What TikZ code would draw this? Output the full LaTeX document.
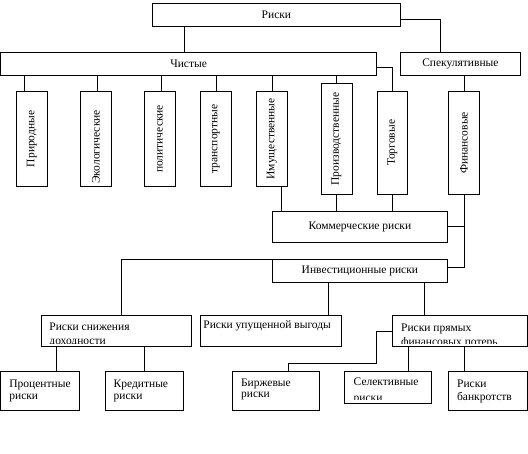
\documentclass[tikz,border=0pt]{standalone}
\usepackage{fontspec}
\setmainfont{Liberation Serif}
\begin{document}
\begin{tikzpicture}[x=1bp,y=-1bp, line width=0.8bp,
  box/.style={draw, rectangle, inner sep=0pt, anchor=north west,
    font=\fontsize{11.5bp}{13bp}\selectfont},
  vtext/.style={rotate=90, inner sep=0pt, font=\fontsize{11.5bp}{13bp}\selectfont},
  ltext/.style={anchor=north west, inner sep=0pt, align=left,
    font=\fontsize{11.5bp}{#1}\selectfont}]
\useasboundingbox (0,0) rectangle (528,454);

% top level
\node[box, minimum width=248bp, minimum height=23bp] (riski) at (152,3) {Риски};
\node[box, minimum width=375.5bp, minimum height=23bp] (chist) at (0.5,52) {Чистые};
\node[box, minimum width=120bp, minimum height=23bp] (spek) at (400,52) {Спекулятивные};

% vertical boxes
\node[box, minimum width=31bp, minimum height=95bp] (prir) at (16,91) {};
\node[box, minimum width=31bp, minimum height=95bp] (ekol) at (80,91) {};
\node[box, minimum width=31bp, minimum height=95bp] (polit) at (144,91) {};
\node[box, minimum width=31bp, minimum height=95bp] (transp) at (200,91) {};
\node[box, minimum width=31bp, minimum height=95bp] (imush) at (256,91) {};
\node[box, minimum width=31bp, minimum height=111bp] (proizv) at (320.5,83) {};
\node[box, minimum width=30bp, minimum height=103bp] (torg) at (377,91) {};
\node[box, minimum width=31bp, minimum height=103bp] (fin) at (448,91) {};

\node[vtext] (prir-t) at (prir.center) {Природные};
\node[vtext] (ekol-t) at ([yshift=-8bp]ekol.center) {Экологические};
\node[vtext] (polit-t) at (polit.center) {политические};
\node[vtext] (transp-t) at (transp.center) {транспортные};
\node[vtext] (imush-t) at (imush.center) {Имущественные};
\node[vtext] (proizv-t) at (proizv.center) {Производственные};
\node[vtext] (torg-t) at (torg.center) {Торговые};
\node[vtext] (fin-t) at (fin.center) {Финансовые};

% middle
\node[box, minimum width=175bp, minimum height=31bp] (komm) at (272,211) {Коммерческие риски};
\node[box, minimum width=175bp, minimum height=23bp] (invest) at (272,259) {Инвестиционные риски};

% lower boxes
\node[box, minimum width=150bp, minimum height=31bp] (snizh) at (41,315) {};
\node[box, minimum width=141bp, minimum height=31bp] (upush) at (200,315) {};
\node[box, minimum width=135bp, minimum height=31bp] (pryam) at (392,315) {};
\node[box, minimum width=78.5bp, minimum height=39bp] (proc) at (0.5,371) {};
\node[box, minimum width=78bp, minimum height=39bp] (kred) at (105,371) {};
\node[box, minimum width=87bp, minimum height=39bp] (birzh) at (232,371) {};
\node[box, minimum width=87bp, minimum height=32bp] (selekt) at (344,371) {};
\node[box, minimum width=79bp, minimum height=39bp] (bankr) at (448,371) {};

\begin{scope}
\clip (snizh.north west) rectangle ([yshift=3bp]snizh.south east);
\node[ltext=14bp] (snizh-t) at ([xshift=8bp,yshift=-7.4bp]snizh.north west) {\rule{0pt}{7.6bp}Риски снижения\\доходности};
\end{scope}
\node[ltext=13bp] (upush-t) at ([xshift=3bp,yshift=-5.7bp]upush.north west) {\rule{0pt}{7.6bp}Риски упущенной выгоды};
\begin{scope}
\clip (pryam.north west) rectangle ([yshift=3bp]pryam.south east);
\node[ltext=14bp] (pryam-t) at ([xshift=8.7bp,yshift=-8.1bp]pryam.north west) {\rule{0pt}{7.6bp}Риски прямых\\финансовых потерь};
\end{scope}
\node[ltext=11.5bp] (proc-t) at ([xshift=8.5bp,yshift=-8.7bp]proc.north west) {\rule{0pt}{7.6bp}Процентные\\риски};
\node[ltext=11.5bp] (kred-t) at ([xshift=8.3bp,yshift=-8.7bp]kred.north west) {\rule{0pt}{7.6bp}Кредитные\\риски};
\node[ltext=11.5bp] (birzh-t) at ([xshift=8.7bp,yshift=-7.1bp]birzh.north west) {\rule{0pt}{7.6bp}Биржевые\\риски};
\begin{scope}
\clip (selekt.north west) rectangle ([yshift=4.5bp]selekt.south east);
\node[ltext=16bp] (selekt-t) at ([xshift=9.3bp,yshift=-6.4bp]selekt.north west) {\rule{0pt}{7.6bp}Селективные\\риски};
\end{scope}
\node[ltext=13.5bp] (bankr-t) at ([xshift=8.7bp,yshift=-8.1bp]bankr.north west) {\rule{0pt}{7.6bp}Риски\\банкротств};

% connectors
\draw (184,0 |- riski.south) -- (184,0 |- chist.north);
\draw (riski.east |- 0,19.6) -| (440,0 |- spek.north);
\draw (24.3,0 |- chist.south) -- (24.3,0 |- prir.north);
\draw (97,0 |- chist.south) -- (97,0 |- ekol.north);
\draw (161,0 |- chist.south) -- (161,0 |- polit.north);
\draw (216,0 |- chist.south) -- (216,0 |- transp.north);
\draw (272,0 |- chist.south) -- (272,0 |- imush.north);
\draw (proizv.north |- chist.south) -- (proizv.north);
\draw (chist.east |- 0,67.3) -| (torg.north);
\draw (fin.north |- spek.south) -- (fin.north);
\draw (281,0 |- imush.south) -- (281,0 |- komm.north);
\draw (proizv.south) -- (proizv.south |- komm.north);
\draw (torg.south) -- (torg.south |- komm.north);
\draw (komm.east) -- (komm.east -| fin.south);
\draw (fin.south) |- (invest.east |- 0,267);
\draw (invest.north west) -| (121,0 |- snizh.north);
\draw (328,0 |- invest.south) -- (328,0 |- upush.north);
\draw (424,0 |- invest.south) -- (424,0 |- pryam.north);
\draw (56,0 |- snizh.south) -- (56,0 |- proc.north);
\draw (144,0 |- snizh.south) -- (144,0 |- kred.north);
\draw (pryam.west |- 0,331) -- (376,331) -- (376,363) -- (288,363) -- (288,0 |- birzh.north);
\draw (408,0 |- pryam.south) -- (408,0 |- selekt.north);
\draw (464,0 |- pryam.south) -- (464,0 |- bankr.north);
\end{tikzpicture}
\end{document}
